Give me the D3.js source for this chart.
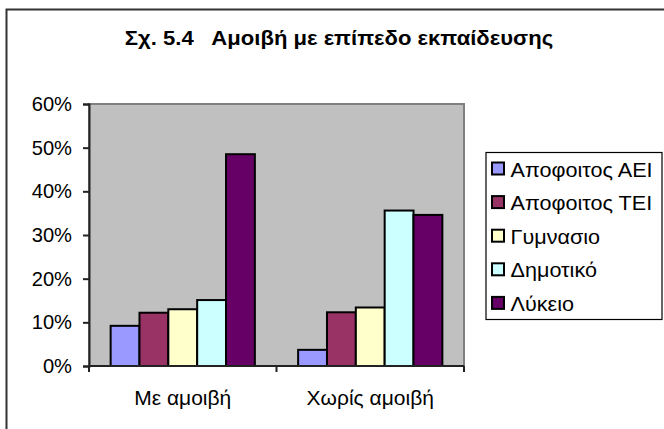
<!DOCTYPE html>
<html>
<head>
<meta charset="utf-8">
<script src="https://cdn.jsdelivr.net/npm/d3@7"></script>
<style>
  html, body { margin: 0; padding: 0; background: #fff; }
  svg { display: block; font-family: "Liberation Sans", Arial, sans-serif; }
</style>
</head>
<body>
<svg id="chart" width="664" height="429"></svg>
<script>
// Categories (x groups), series (education levels) and their shares
const categories = ["Με αμοιβή", "Χωρίς αμοιβή"];
const seriesNames = ["Αποφοιτος ΑΕΙ", "Αποφοιτος ΤΕΙ", "Γυμνασιο", "Δημοτικό", "Λύκειο"];
const seriesColors = ["#9999FF", "#993366", "#FFFFCC", "#CCFFFF", "#660066"];
const valuesMeAmoivi = [0.092, 0.122, 0.130, 0.151, 0.485];
const valuesXorisAmoivi = [0.037, 0.123, 0.134, 0.356, 0.346];
const yTicks = [0, 0.1, 0.2, 0.3, 0.4, 0.5, 0.6];
const titleText = "Σχ. 5.4   Αμοιβή με επίπεδο εκπαίδευσης";

const valuesByCategory = [valuesMeAmoivi, valuesXorisAmoivi];
const rows = categories.map((c, i) => ({
  category: c,
  values: seriesNames.map((s, j) => ({ series: s, color: seriesColors[j], value: valuesByCategory[i][j] }))
}));

const svg = d3.select("#chart");
const plot = { left: 89, right: 464, top: 104, bottom: 366 };
const FONT = 19.8;

// The chart's lettering is slightly wide; stretch a set of text nodes
// horizontally so that a reference string reaches the given width.
function widen(sel, refNode, targetWidth) {
  const w = refNode.getComputedTextLength();
  const s = targetWidth / w;
  sel.each(function () {
    const t = d3.select(this);
    const x = +t.attr("x") || 0;
    t.attr("x", x / s).attr("transform", `scale(${s},1)`);
  });
}

// Outer chart frame (runs past the right and bottom edges)
svg.append("rect")
  .attr("x", 6.5).attr("y", 9.5)
  .attr("width", 720).attr("height", 480)
  .attr("fill", "#fff").attr("stroke", "#333").attr("stroke-width", 2);

// Title
const title = svg.append("text")
  .attr("x", 339).attr("y", 45)
  .attr("text-anchor", "middle")
  .style("white-space", "pre")
  .attr("font-weight", "bold")
  .attr("font-size", FONT)
  .attr("fill", "#000")
  .text(titleText);
widen(title, title.node(), 428);

// Scales
const x0 = d3.scaleBand().domain(categories).range([plot.left, plot.right]).padding(0);
const x1 = d3.scaleBand().domain(seriesNames).range([0, x0.bandwidth()]).paddingInner(0).paddingOuter(0.75);
const y = d3.scaleLinear().domain([0, 0.6]).range([plot.bottom, plot.top]);

// Plot area
svg.append("rect")
  .attr("x", plot.left).attr("y", plot.top)
  .attr("width", plot.right - plot.left).attr("height", plot.bottom - plot.top)
  .attr("fill", "#C0C0C0").attr("stroke", "#808080").attr("stroke-width", 2);

// Bars
const groups = svg.append("g").selectAll("g").data(rows).join("g")
  .attr("transform", d => `translate(${x0(d.category)},0)`);
groups.selectAll("rect").data(d => d.values).join("rect")
  .attr("x", d => x1(d.series))
  .attr("y", d => y(d.value))
  .attr("width", x1.bandwidth())
  .attr("height", d => y(0) - y(d.value))
  .attr("fill", d => d.color)
  .attr("stroke", "#000")
  .attr("stroke-width", 2);

// Y axis
const yAxis = svg.append("g")
  .attr("transform", `translate(${plot.left},0)`)
  .call(d3.axisLeft(y).tickValues(yTicks).tickFormat(d3.format(".0%")).tickSize(6).tickPadding(11));
yAxis.select(".domain").attr("stroke", "#222").attr("stroke-width", 2);
yAxis.selectAll(".tick line").attr("stroke", "#222").attr("stroke-width", 2);
const yLabels = yAxis.selectAll(".tick text")
  .attr("font-size", FONT).attr("fill", "#000")
  .attr("font-family", "Liberation Sans, Arial, sans-serif");
widen(yLabels, yLabels.nodes()[yLabels.size() - 1], 40.3);

// X axis: ticks at category boundaries, labels centred under each group
const xAxis = svg.append("g").attr("transform", `translate(0,${plot.bottom})`);
xAxis.append("line")
  .attr("x1", plot.left).attr("x2", plot.right)
  .attr("stroke", "#222").attr("stroke-width", 2);
const boundaries = categories.map(c => x0(c)).concat([x0(categories[categories.length - 1]) + x0.bandwidth()]);
xAxis.selectAll("line.tk").data(boundaries).join("line")
  .attr("class", "tk")
  .attr("x1", d => d).attr("x2", d => d)
  .attr("y1", 0).attr("y2", 6)
  .attr("stroke", "#222").attr("stroke-width", 2);
const xLabels = xAxis.selectAll("text").data(categories).join("text")
  .attr("x", d => x0(d) + x0.bandwidth() / 2)
  .attr("y", 39)
  .attr("text-anchor", "middle")
  .attr("font-size", FONT)
  .attr("fill", "#000")
  .text(d => d);
widen(xLabels, xLabels.nodes()[0], 97);

// Legend
const legend = svg.append("g");
legend.append("rect")
  .attr("x", 486).attr("y", 152.5)
  .attr("width", 176).attr("height", 167)
  .attr("fill", "#fff").attr("stroke", "#000").attr("stroke-width", 1.2);
const items = legend.selectAll("g.item").data(seriesNames).join("g")
  .attr("class", "item")
  .attr("transform", (d, i) => `translate(0,${169 + i * 33.6})`);
items.append("rect")
  .attr("x", 492).attr("y", -6.5)
  .attr("width", 12).attr("height", 12)
  .attr("fill", (d, i) => seriesColors[i])
  .attr("stroke", "#000").attr("stroke-width", 2);
const legendLabels = items.append("text")
  .attr("x", 510.5).attr("y", 7.5)
  .attr("font-size", FONT)
  .attr("fill", "#000")
  .text(d => d);
widen(legendLabels, legendLabels.nodes()[0], 142);
</script>
</body>
</html>
